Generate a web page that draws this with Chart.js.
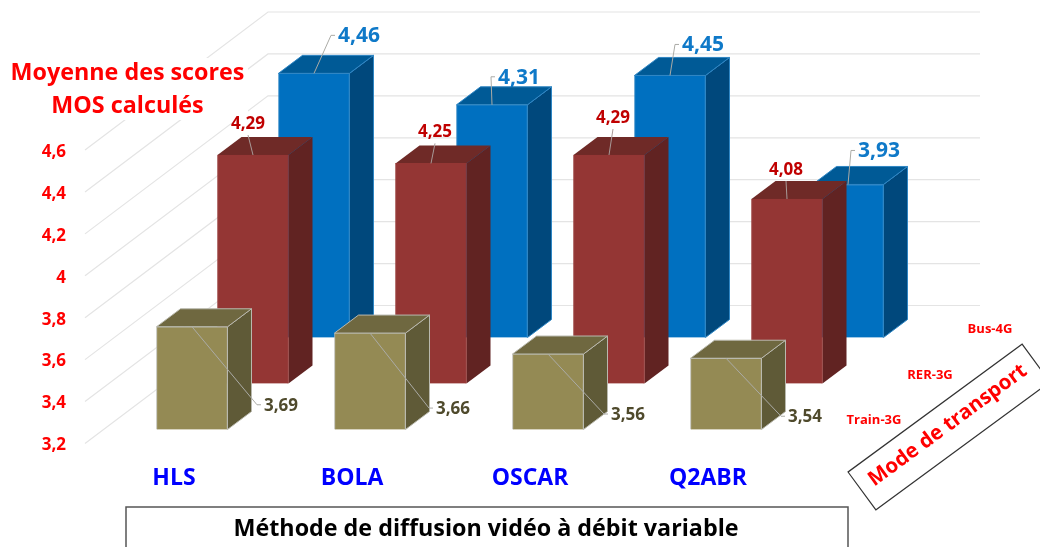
<!DOCTYPE html>
<html lang="fr">
<head>
<meta charset="UTF-8">
<title>Moyenne des scores MOS</title>
<script src="https://cdn.jsdelivr.net/npm/chart.js@4"></script>
<style>
  html, body { margin: 0; padding: 0; background: #fff; overflow: hidden; }
  canvas { display: block; }
</style>
</head>
<body>
<canvas id="myChart" width="1040" height="547"></canvas>
<script>
const methods = ['HLS', 'BOLA', 'OSCAR', 'Q2ABR'];
const seriesNames = ['Train-3G', 'RER-3G', 'Bus-4G'];
const train3g = [3.69, 3.66, 3.56, 3.54];
const rer3g = [4.29, 4.25, 4.29, 4.08];
const bus4g = [4.46, 4.31, 4.45, 3.93];

const yMin = 3.2, yMax = 4.6, yStep = 0.2;
const yTitleLines = ['Moyenne des scores', 'MOS calculés'];
const xTitle = 'Méthode de diffusion vidéo à débit variable';
const zTitle = 'Mode de transport';

const FONT = '"Open Sans", sans-serif';

// how each series sits in the fake depth, and the colours of its faces
const looks = [
  { shift: [18, -14], front: '#948A54', top: '#6F6840', side: '#5F5A37', edge: '#B9B9AE', text: '#4F4A2C', nameAt: [874, 420] },
  { shift: [79, -60], front: '#943634', top: '#6F2A27', side: '#612322', edge: '#943634', text: '#C00000', nameAt: [930, 375] },
  { shift: [140, -106], front: '#0070C0', top: '#005A96', side: '#00487C', edge: '#2F86C4', text: '#0F79C8', nameAt: [990, 329] }
];
const barDepth = [24, -18];
const wallDepth = [183, -138];
const wallRight = 980;

// label centre relative to the middle of the bar top
const labelShift = [
  [[89, 79], [83, 76], [80, 61], [79, 59]],
  [[-5, -31], [4, -31], [4, -37], [-1, -29]],
  [[45, -37], [27, -27], [33, -30], [31, -33]]
];

function comma(v) { return String(v).replace('.', ','); }

function poly(ctx, pts, fill, stroke) {
  ctx.beginPath();
  pts.forEach((p, i) => i ? ctx.lineTo(p[0], p[1]) : ctx.moveTo(p[0], p[1]));
  ctx.closePath();
  ctx.fillStyle = fill;
  ctx.fill();
  if (stroke) { ctx.strokeStyle = stroke; ctx.lineWidth = 1; ctx.stroke(); }
}

const fake3d = {
  id: 'fake3d',
  beforeDatasetsDraw(chart) {
    const ctx = chart.ctx, y = chart.scales.y;
    const left = y.right;
    ctx.save();
    y.ticks.forEach(t => {
      const py = y.getPixelForValue(t.value);
      ctx.strokeStyle = '#E4E4E4';
      ctx.lineWidth = 1.2;
      ctx.beginPath();
      ctx.moveTo(left, py);
      ctx.lineTo(left + wallDepth[0], py + wallDepth[1]);
      ctx.lineTo(wallRight, py + wallDepth[1]);
      ctx.stroke();
    });
    // white box behind the axis title
    ctx.fillStyle = '#fff';
    ctx.fillRect(8, 58, 240, 62);
    ctx.restore();
  },
  beforeDatasetDraw(chart, args) {
    const ctx = chart.ctx, look = looks[args.index];
    ctx.save();
    ctx.translate(look.shift[0], look.shift[1]);
    args.meta.data.forEach(el => {
      const l = el.x - el.width / 2, r = el.x + el.width / 2;
      const dx = barDepth[0], dy = barDepth[1];
      poly(ctx, [[r, el.y], [r + dx, el.y + dy], [r + dx, el.base + dy], [r, el.base]], look.side, look.edge === look.front ? null : look.edge);
      poly(ctx, [[l, el.y], [l + dx, el.y + dy], [r + dx, el.y + dy], [r, el.y]], look.top, look.edge === look.front ? null : look.edge);
    });
  },
  afterDatasetDraw(chart) {
    chart.ctx.restore();
  },
  afterDatasetsDraw(chart) {
    const ctx = chart.ctx;
    ctx.save();
    ctx.textAlign = 'center';
    ctx.textBaseline = 'middle';

    // value labels with their leader lines
    chart.data.datasets.forEach((ds, s) => {
      const look = looks[s];
      chart.getDatasetMeta(s).data.forEach((el, i) => {
        const ax = el.x + look.shift[0], ay = el.y + look.shift[1];
        const lx = ax + labelShift[s][i][0], ly = ay + labelShift[s][i][1];
        ctx.strokeStyle = s === 1 ? '#A89A98' : '#ABABA6';
        ctx.lineWidth = 1;
        ctx.beginPath();
        ctx.moveTo(ax, ay);
        if (s === 0) {
          ctx.lineTo(lx - 24, ly - 1);
          ctx.lineTo(lx - 20, ly - 1);
        } else if (s === 1) {
          ctx.lineTo(lx, ly + 11);
        } else {
          ctx.lineTo(lx - 28, ly - 1);
          ctx.lineTo(lx - 24, ly - 1);
        }
        ctx.stroke();
        ctx.fillStyle = look.text;
        ctx.font = 'bold ' + [17, 17, 21][s] + 'px ' + FONT;
        ctx.fillText(comma(ds.data[i]), lx, ly);
      });
      // series names along the depth axis
      ctx.fillStyle = '#FF0000';
      ctx.font = 'bold 13px ' + FONT;
      ctx.fillText(seriesNames[s], look.nameAt[0], look.nameAt[1]);
    });

    // value axis title
    ctx.fillStyle = '#FF0000';
    ctx.font = 'bold 23.3px ' + FONT;
    ctx.fillText(yTitleLines[0], 127.5, 73);
    ctx.fillText(yTitleLines[1], 127.5, 106);

    // category axis title, its box runs off the bottom
    ctx.strokeStyle = '#555';
    ctx.lineWidth = 1.5;
    ctx.beginPath();
    ctx.moveTo(126, 550);
    ctx.lineTo(126, 507);
    ctx.lineTo(848, 507);
    ctx.lineTo(848, 550);
    ctx.stroke();
    ctx.fillStyle = '#000';
    ctx.font = 'bold 23.3px ' + FONT;
    ctx.fillText(xTitle, 486, 529);

    // depth axis title
    ctx.translate(949, 427);
    ctx.rotate(-36.3 * Math.PI / 180);
    ctx.strokeStyle = '#333';
    ctx.lineWidth = 1.2;
    ctx.fillStyle = '#fff';
    ctx.fillRect(-108, -23.5, 216, 47);
    ctx.strokeRect(-108, -23.5, 216, 47);
    ctx.fillStyle = '#FF0000';
    ctx.font = 'bold 20.5px ' + FONT;
    ctx.fillText(zTitle, 0, -2);
    ctx.restore();
  }
};

new Chart(document.getElementById('myChart'), {
  type: 'bar',
  data: {
    labels: methods,
    datasets: [train3g, rer3g, bus4g].map((vals, s) => ({
      label: seriesNames[s],
      data: vals,
      base: yMin,
      backgroundColor: looks[s].front,
      borderColor: looks[s].edge,
      borderWidth: 1,
      barThickness: 71,
      grouped: false,
      clip: false
    }))
  },
  options: {
    responsive: false,
    animation: false,
    events: [],
    layout: { padding: { top: 150, left: 0, right: 243, bottom: 43.5 } },
    plugins: { legend: { display: false }, tooltip: { enabled: false } },
    scales: {
      x: {
        grid: { display: false, drawTicks: false },
        border: { display: false },
        ticks: { color: '#0000FF', font: { family: FONT, size: 23, weight: 'bold' }, padding: 21, maxRotation: 0 },
        afterFit(s) { s.height = 60; }
      },
      y: {
        min: yMin,
        max: yMax,
        grid: { display: false, drawTicks: false },
        border: { display: false },
        ticks: {
          stepSize: yStep,
          color: '#FF0000',
          font: { family: FONT, size: 17, weight: 'bold' },
          padding: 19,
          labelOffset: 2,
          callback: v => comma(Math.round(v * 10) / 10)
        },
        afterFit(s) { s.width = 85; }
      }
    }
  },
  plugins: [fake3d]
});
</script>
</body>
</html>
